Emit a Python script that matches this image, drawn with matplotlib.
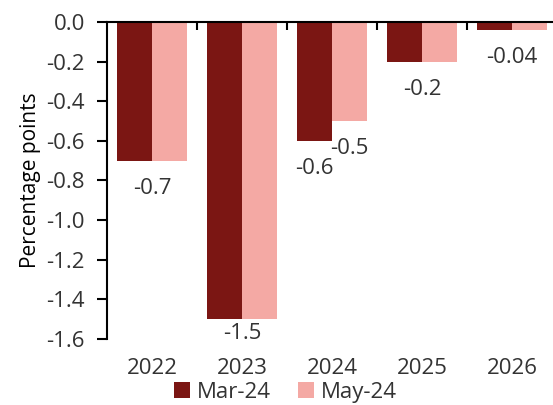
import matplotlib
matplotlib.use("Agg")
import matplotlib.pyplot as plt
import numpy as np

plt.rcParams["font.family"] = ["Open Sans", "DejaVu Sans"]
plt.rcParams["font.size"] = 16
plt.rcParams["text.color"] = "#333333"
plt.rcParams["xtick.color"] = "#000000"
plt.rcParams["ytick.color"] = "#000000"
plt.rcParams["xtick.labelcolor"] = "#333333"
plt.rcParams["ytick.labelcolor"] = "#333333"

# Data
years = ["2022", "2023", "2024", "2025", "2026"]
mar_24 = [-0.7, -1.5, -0.6, -0.2, -0.04]
may_24 = [-0.7, -1.5, -0.5, -0.2, -0.04]
series_names = ["Mar-24", "May-24"]
yticks = [-1.6, -1.4, -1.2, -1.0, -0.8, -0.6, -0.4, -0.2, 0.0]
ytick_labels = ["-1.6", "-1.4", "-1.2", "-1.0", "-0.8", "-0.6", "-0.4", "-0.2", "0.0"]

# value labels: (category index, series index or None for centred, text)
value_labels = [(0, None, "-0.7"), (1, None, "-1.5"), (2, 0, "-0.6"),
                (2, 1, "-0.5"), (3, None, "-0.2"), (4, None, "-0.04")]

COL_MAR = "#7b1613"
COL_MAY = "#f4a9a4"
BAR_W = 0.39

fig = plt.figure(figsize=(5.53, 4.05), dpi=100)
ax = fig.add_axes([0.1935, 0.163, 0.8137, 0.7827])

x = np.arange(len(years))
ax.bar(x - BAR_W / 2, mar_24, BAR_W, color=COL_MAR, label=series_names[0])
ax.bar(x + BAR_W / 2, may_24, BAR_W, color=COL_MAY, label=series_names[1])

series = [mar_24, may_24]
for idx, s_idx, txt in value_labels:
    if s_idx is None:
        xpos, val = x[idx], min(mar_24[idx], may_24[idx])
    else:
        xpos, val = x[idx] + (s_idx - 0.5) * BAR_W, series[s_idx][idx]
    off = -10 if idx == 1 else -20
    ax.annotate(txt, (xpos, val), xytext=(0, off), textcoords="offset points",
                ha="center", va="center", fontsize=16)

ax.set_xlim(-0.5, len(years) - 0.5)
ax.set_ylim(-1.6, 0)
ax.set_yticks(yticks)
ax.set_yticklabels(ytick_labels)

ax.set_xticks(x)
ax.set_xticklabels(years)
ax.tick_params(axis="x", which="major", length=0, pad=14)
ax.set_xticks(np.arange(0.5, len(years) - 1, 1.0), minor=True)
ax.tick_params(axis="x", which="minor", bottom=False, top=True,
               direction="in", length=6, width=1.5)
ax.tick_params(axis="y", direction="out", length=7, width=1.5, pad=9)

ax.spines["bottom"].set_visible(False)
ax.spines["right"].set_visible(False)
ax.spines["top"].set_linewidth(1.5)
ax.spines["left"].set_linewidth(1.5)

ax.set_ylabel("Percentage points", fontsize=15, labelpad=4)

ax.legend(loc="lower center", bbox_to_anchor=(0.516, -0.022),
          bbox_transform=fig.transFigure, ncol=2, frameon=False,
          handlelength=0.75, handleheight=0.75, handletextpad=0.3,
          columnspacing=1.2, borderpad=0, fontsize=16)

fig.savefig("out.png", dpi=100)
